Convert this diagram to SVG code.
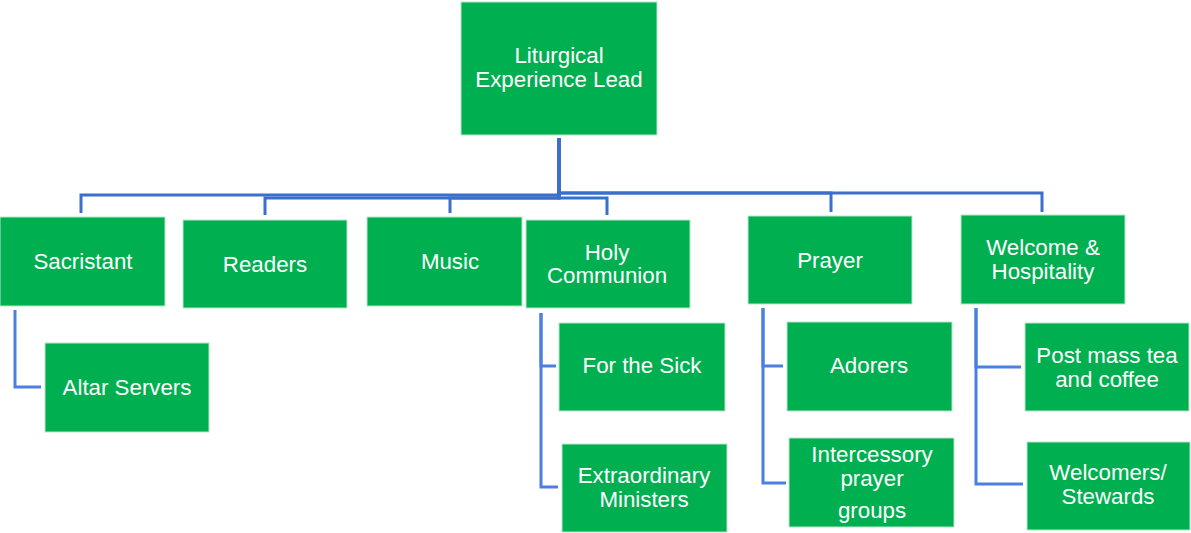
<svg xmlns="http://www.w3.org/2000/svg" width="1191" height="533" viewBox="0 0 1191 533">
<style>
.box{fill:#00b050;stroke:#b7e6c9;stroke-width:1}
.t{font-family:"Liberation Sans",Arial,sans-serif;font-size:22.3px;fill:#ffffff;text-anchor:middle}
.c1{fill:none;stroke:#3a6fcb;stroke-width:3}
.c2{fill:none;stroke:#4a80e0;stroke-width:3}
</style>
<rect width="1191" height="533" fill="#ffffff"/>
<g id="connectors">
<path class="c1" d="M559,138 V195 H81 V213"/>
<path class="c1" d="M559,138 V198 H265 V215"/>
<path class="c1" d="M559,138 V198 H450 V213"/>
<path class="c1" d="M559,138 V198 H607 V215"/>
<path class="c1" d="M559,138 V193 H831 V212"/>
<path class="c1" d="M559,138 V193 H1042 V212"/>
<path class="c2" d="M15,310 V387 H41"/>
<path class="c2" d="M541,313 V366 H556"/>
<path class="c2" d="M541,313 V487 H558"/>
<path class="c2" d="M763,308 V366 H783"/>
<path class="c2" d="M763,308 V483 H786"/>
<path class="c2" d="M976,308 V367 H1021"/>
<path class="c2" d="M976,308 V484 H1023"/>
</g>
<g id="lead"><rect class="box" x="461" y="2" width="196" height="133"/><text class="t" x="559" y="63">Liturgical</text><text class="t" x="559" y="87">Experience Lead</text></g>
<g id="sacristant"><rect class="box" x="0" y="217" width="165" height="89"/><text class="t" x="83" y="269">Sacristant</text></g>
<g id="readers"><rect class="box" x="183" y="220" width="164" height="88"/><text class="t" x="265" y="272">Readers</text></g>
<g id="music"><rect class="box" x="367" y="217" width="155" height="89"/><text class="t" x="450" y="269">Music</text></g>
<g id="holy-communion"><rect class="box" x="526" y="220" width="164" height="88"/><text class="t" x="607" y="260">Holy</text><text class="t" x="607" y="283">Communion</text></g>
<g id="prayer"><rect class="box" x="748" y="216" width="164" height="88"/><text class="t" x="830" y="268">Prayer</text></g>
<g id="welcome"><rect class="box" x="961" y="215" width="164" height="89"/><text class="t" x="1043" y="255">Welcome &amp;</text><text class="t" x="1043" y="279">Hospitality</text></g>
<g id="altar-servers"><rect class="box" x="45" y="343" width="164" height="89"/><text class="t" x="127" y="395">Altar Servers</text></g>
<g id="for-the-sick"><rect class="box" x="559" y="323" width="166" height="88"/><text class="t" x="642" y="373">For the Sick</text></g>
<g id="extraordinary-ministers"><rect class="box" x="562" y="444" width="165" height="88"/><text class="t" x="644" y="483">Extraordinary</text><text class="t" x="644" y="507">Ministers</text></g>
<g id="adorers"><rect class="box" x="787" y="322" width="165" height="89"/><text class="t" x="869" y="373">Adorers</text></g>
<g id="intercessory"><rect class="box" x="789" y="438" width="165" height="89"/><text class="t" x="872" y="462">Intercessory</text><text class="t" x="872" y="486">prayer</text><text class="t" x="872" y="518">groups</text></g>
<g id="post-mass"><rect class="box" x="1025" y="323" width="164" height="88"/><text class="t" x="1107" y="363">Post mass tea</text><text class="t" x="1107" y="387">and coffee</text></g>
<g id="welcomers"><rect class="box" x="1027" y="442" width="163" height="88"/><text class="t" x="1108" y="480">Welcomers/</text><text class="t" x="1108" y="504">Stewards</text></g>
</svg>
